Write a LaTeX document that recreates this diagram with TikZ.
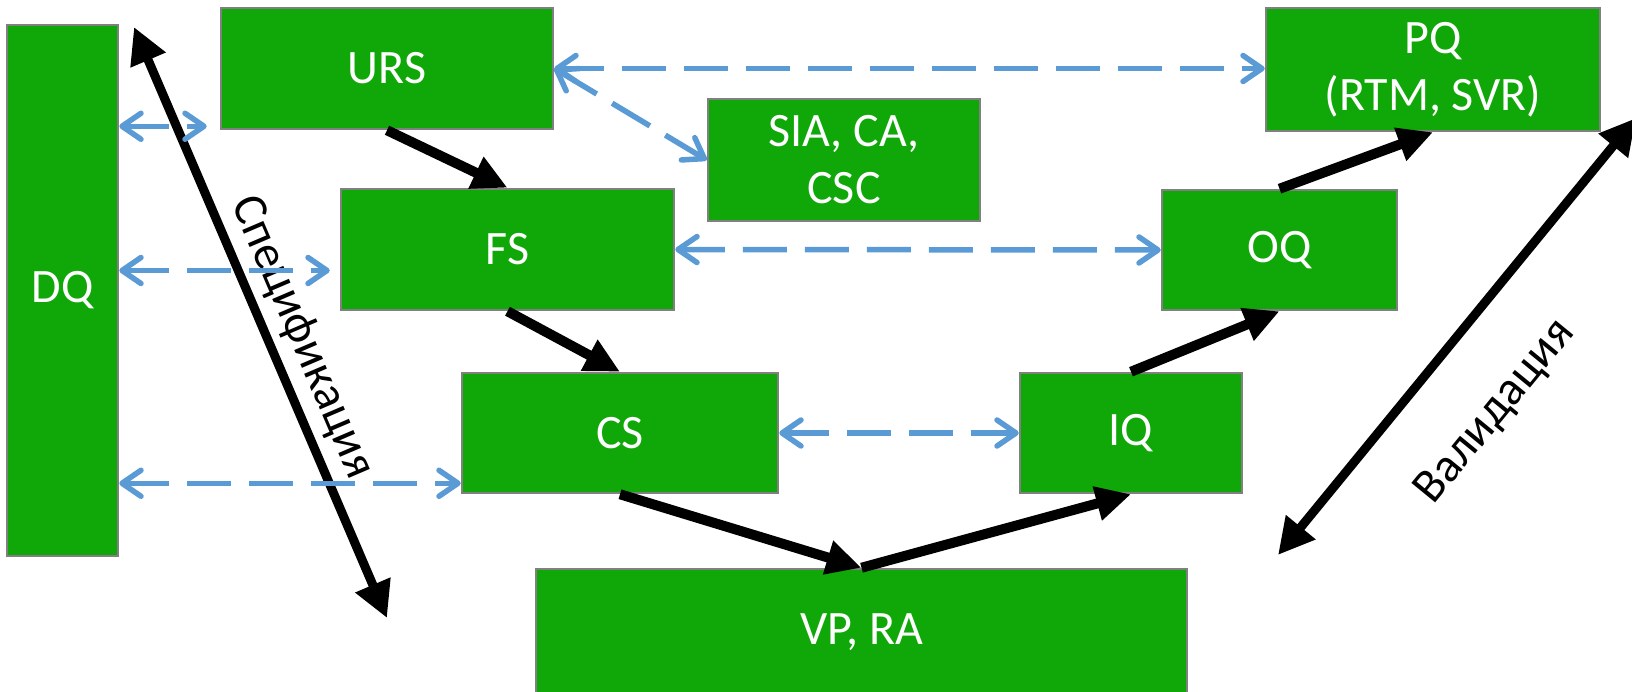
\documentclass[tikz,border=0pt]{standalone}
\usepackage{fontspec}
\setmainfont{Carlito}
\usetikzlibrary{calc}
\usetikzlibrary{positioning}
\usetikzlibrary{arrows.meta}

\definecolor{stagegreen}{HTML}{10A808}
\definecolor{stageborder}{HTML}{808080}
\definecolor{linkblue}{HTML}{5B9BD5}

\tikzset{
  stage/.style={draw=stageborder, line width=2.5pt, fill=stagegreen, text=white,
    inner sep=0pt, align=center, font=\fontsize{48}{57}\selectfont},
  flow/.style={line width=10pt, -{Triangle[length=35pt,width=33pt]}},
  phase/.style={line width=9pt, {Triangle[length=36pt,width=36pt]}-{Triangle[length=36pt,width=36pt]}},
  link/.style={linkblue, line width=5.5pt, dash pattern=on 44pt off 18pt,
    {Straight Barb[length=19pt,width=26pt,round]}-{Straight Barb[length=19pt,width=26pt,round]}},
  phaselabel/.style={inner sep=2pt, font=\fontsize{48}{57}\selectfont}
}

\begin{document}
\begin{tikzpicture}[x=1pt, y=-1pt]
	\useasboundingbox (0,0) rectangle (1632,691);

	\node[stage, minimum width=111pt, minimum height=531pt] (dq) at (62.5,290.5) {DQ};

	\node[stage, minimum width=332pt, minimum height=121pt] (urs) at (387,68.5) {URS};
	\node[stage, minimum width=333pt, minimum height=121pt] (fs) at (507.5,249.5) {FS};
	\node[stage, minimum width=316pt, minimum height=120pt] (cs) at (620,433) {CS};
	\node[stage, minimum width=651pt, minimum height=126pt] (vp) at (861.5,632) {VP, RA};

	\node[stage, minimum width=272pt, minimum height=122pt] (sia) at (844,160) {SIA, CA,\\CSC};

	\node[stage, minimum width=222pt, minimum height=120pt] (iq) at (1131,433) {IQ};
	\node[stage, minimum width=235pt, minimum height=120pt] (oq) at (1279.5,250) {OQ};
	\node[stage, minimum width=334pt, minimum height=123pt] (pq) at (1433,69.5) {PQ\\(RTM, SVR)};

	\coordinate (spectop) at (134,27);
	\coordinate (specbottom) at (387,618);
	\coordinate (valbottom) at (1278,555);
	\coordinate (valtop) at (1636,118);

	\path[draw, phase] (spectop) -- node[pos=0.547, sloped, above=6pt, phaselabel] {Спецификация} (specbottom);
	\path[draw, phase] (valbottom) -- node[pos=0.44, sloped, below=52pt, phaselabel] {Валидация} (valtop);

	\path[draw, flow] (urs.south) -- (fs.north);
	\path[draw, flow] (fs.south) -- (cs.north);
	\path[draw, flow] (cs.south) -- (vp.north);
	\path[draw, flow] (vp.north) -- (iq.south);
	\path[draw, flow] (iq.north) -- (oq.south);
	\path[draw, flow] (oq.north) -- (pq.south);

	\path[draw, link] ([yshift=4pt]dq.east |- urs.south west) -- ([xshift=-13pt, yshift=4pt]urs.south west);
	\path[draw, link] ([yshift=-21pt]dq.east |- fs.west) -- ([xshift=-10pt, yshift=-21pt]fs.west);
	\path[draw, link] ([yshift=11pt]dq.east |- cs.south west) -- ([yshift=11pt]cs.south west);
	\path[draw, link] (urs.east) -- (urs.east -| pq.west);
	\path[draw, link] (urs.east) -- (sia.west);
	\path[draw, link] (fs.east) -- (oq.west);
	\path[draw, link] (cs.east) -- (iq.west);
\end{tikzpicture}
\end{document}
